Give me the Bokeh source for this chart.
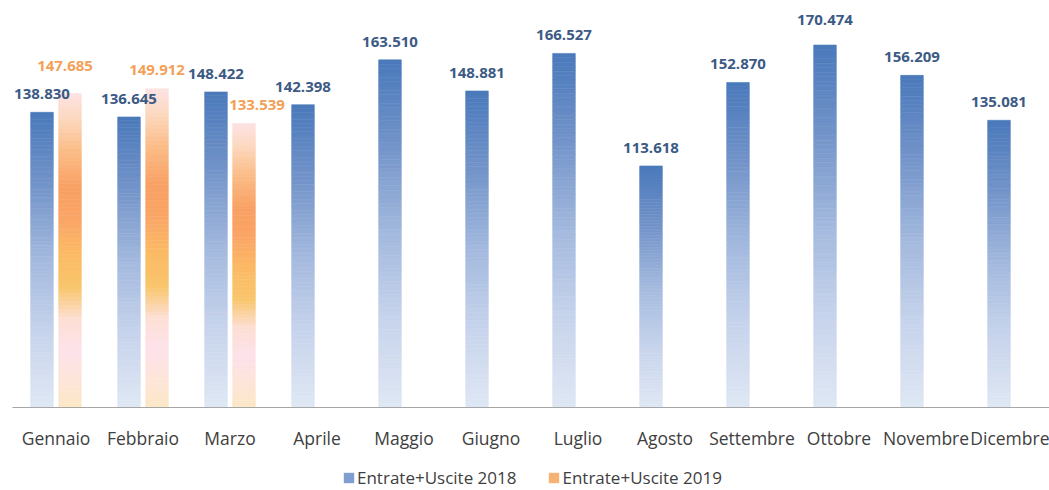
from bokeh.plotting import figure
from bokeh.layouts import column
from bokeh.models import ColumnDataSource, FixedTicker, Legend, LegendItem, Range1d
from bokeh.core.properties import value
from bokeh.embed import file_html
from bokeh.resources import INLINE

months = ["Gennaio", "Febbraio", "Marzo", "Aprile", "Maggio", "Giugno", "Luglio",
          "Agosto", "Settembre", "Ottobre", "Novembre", "Dicembre"]
v2018 = [138830, 136645, 148422, 142398, 163510, 148881, 166527,
         113618, 152870, 170474, 156209, 135081]
v2019 = [147685, 149912, 133539, None, None, None, None, None, None, None, None, None]
series_names = ["Entrate+Uscite 2018", "Entrate+Uscite 2019"]

# ---- styles ----
BLUE_STOPS = [(0.0, "#4a79bb"), (0.25, "#7394c9"), (0.5, "#a3b9de"), (0.75, "#c7d4ec"), (1.0, "#dfe7f4")]
ORANGE_STOPS = [(0.0, "#fde3e3"), (0.08, "#fcd8c0"), (0.18, "#fbbd88"), (0.30, "#f9a064"),
                (0.40, "#faa566"), (0.50, "#fbb865"), (0.62, "#f9c66c"), (0.72, "#fddfd4"),
                (0.82, "#fde2ea"), (0.92, "#fde6d8"), (1.0, "#fce7c6")]
NSEG = 80
OFF = 0.161
BW = 0.26
# label nudges (screen px), as placed in the original chart
DY18 = [-18, -18, -18, -18, -18, -18, -18, -18, -18, -25, -18, -18]
DX19 = [-5, 0, 13]
DY19 = [-27, -19, -19]


def hex2rgb(h):
    h = h.lstrip("#")
    return tuple(int(h[i:i + 2], 16) for i in (0, 2, 4))


def interp(stops, t):
    for (t0, c0), (t1, c1) in zip(stops[:-1], stops[1:]):
        if t0 <= t <= t1:
            f = 0 if t1 == t0 else (t - t0) / (t1 - t0)
            a, b = hex2rgb(c0), hex2rgb(c1)
            return "#%02x%02x%02x" % tuple(round(a[k] + (b[k] - a[k]) * f) for k in range(3))
    return stops[-1][1]


def gradient_source(xs, vals, stops):
    d = dict(x=[], top=[], bottom=[], color=[])
    for x, v in zip(xs, vals):
        if v is None:
            continue
        for k in range(NSEG):
            t_mid = (k + 0.5) / NSEG
            top = v * (1 - k / NSEG)
            bot = v * (1 - (k + 1) / NSEG)
            d["x"].append(float(x))
            d["top"].append(float(top))
            d["bottom"].append(float(bot))
            d["color"].append(interp(stops, t_mid))
    return ColumnDataSource(d)


W = 1049
p = figure(width=W, height=452, output_backend="svg", toolbar_location=None,
           min_border_left=12, min_border_right=0, min_border_top=8, min_border_bottom=40,
           x_range=Range1d(-0.5, -0.5 + 1037 / 87), y_range=Range1d(0, 187660))
p.outline_line_color = None
p.xgrid.visible = False
p.ygrid.visible = False
p.yaxis.visible = False
p.background_fill_color = "white"
p.border_fill_color = "white"

idx = list(range(len(months)))
x18 = [i - OFF for i in idx]
x19 = [i + OFF for i in idx]

s18 = gradient_source(x18, v2018, BLUE_STOPS)
s19 = gradient_source(x19, v2019, ORANGE_STOPS)
p.vbar(x="x", top="top", bottom="bottom", width=BW, source=s18,
       fill_color="color", line_color="color", line_width=0.6)
p.vbar(x="x", top="top", bottom="bottom", width=BW, source=s19,
       fill_color="color", line_color="color", line_width=0.6)

# data labels
lab18 = ColumnDataSource(dict(x=x18, y=v2018, dy=DY18,
                              t=[f"{v:,}".replace(",", ".") for v in v2018]))
p.text(x="x", y="y", text="t", source=lab18, text_align="center", text_baseline="alphabetic",
       y_offset="dy", text_font=value("Open Sans"), text_font_style="bold",
       text_font_size="15px", text_color="#3c5a84")
xs19 = [x for x, v in zip(x19, v2019) if v is not None]
vs19 = [v for v in v2019 if v is not None]
lab19 = ColumnDataSource(dict(x=xs19, y=vs19, dx=DX19, dy=DY19,
                              t=[f"{v:,}".replace(",", ".") for v in vs19]))
p.text(x="x", y="y", text="t", source=lab19, text_align="center", text_baseline="alphabetic",
       x_offset="dx", y_offset="dy", text_font=value("Open Sans"), text_font_style="bold",
       text_font_size="15px", text_color="#f4a057")

# x axis
ax = p.xaxis[0]
ax.ticker = FixedTicker(ticks=idx)
ax.major_label_overrides = {i: m for i, m in zip(idx, months)}
ax.major_tick_line_color = None
ax.minor_tick_line_color = None
ax.axis_line_color = "#a6a6a6"
ax.axis_line_width = 1
ax.major_label_standoff = 12
ax.major_label_text_font = "Open Sans"
ax.major_label_text_font_size = "17.5px"
ax.major_label_text_color = "#404040"

# legend strip below the chart
pl = figure(width=W, height=38, output_backend="svg", toolbar_location=None,
            min_border=0, x_range=Range1d(0, 1), y_range=Range1d(0, 1))
pl.axis.visible = False
pl.grid.visible = False
pl.outline_line_color = None
pl.background_fill_color = "white"
pl.border_fill_color = "white"
e18 = pl.vbar(x=[0.5], top=[-5.0], bottom=[-6.0], width=0.1, fill_color="#7f9fd2", line_color=None)
e19 = pl.vbar(x=[0.5], top=[-5.0], bottom=[-6.0], width=0.1, fill_color="#f7b274", line_color=None)
legend = Legend(items=[LegendItem(label=series_names[0], renderers=[e18]),
                       LegendItem(label=series_names[1], renderers=[e19])],
                orientation="horizontal", location=(330, 1),
                glyph_width=13, glyph_height=13, label_standoff=2, spacing=31,
                padding=0, margin=0, border_line_alpha=0, background_fill_alpha=0,
                label_text_font="Open Sans", label_text_font_size="17px",
                label_text_color="#404040", label_height=18)
pl.add_layout(legend, "center")

layout = column(p, pl, spacing=0)
open("out.html", "w").write(file_html(layout, INLINE))
